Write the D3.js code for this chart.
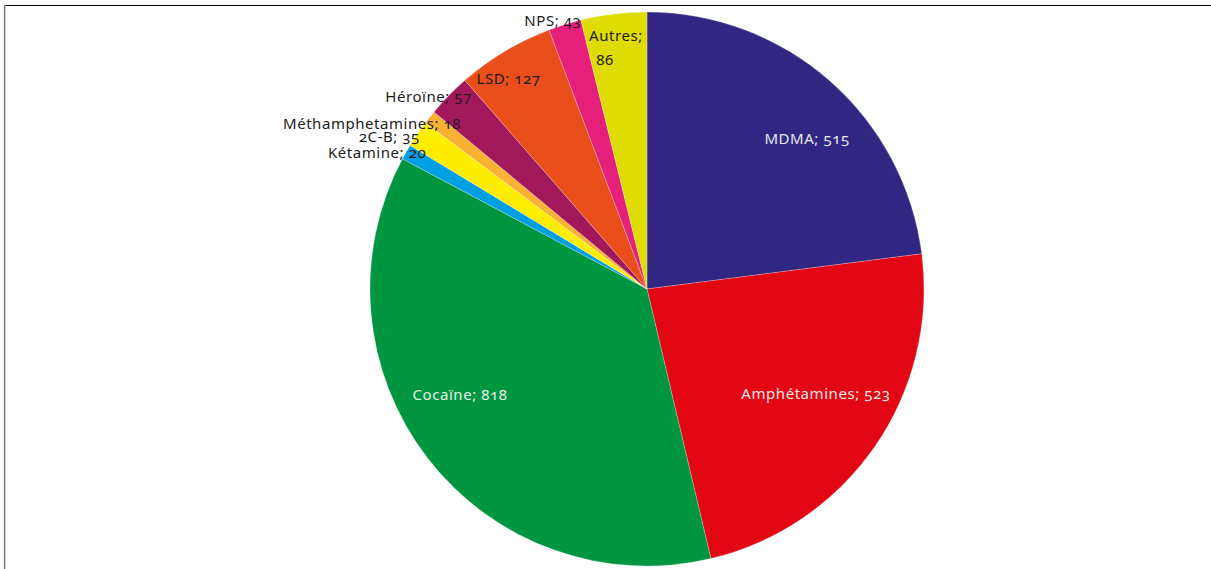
<!DOCTYPE html>
<html><head><meta charset="utf-8">
<script src="https://cdn.jsdelivr.net/npm/d3@7/dist/d3.min.js"></script>
<style>
html,body{margin:0;padding:0;background:#fff;}
svg{display:block;}
text{font-family:"Noto Sans","Open Sans",sans-serif;font-variant-numeric:oldstyle-nums;font-feature-settings:"onum" 1;letter-spacing:0.55px;}
</style></head>
<body>
<svg id="chart" width="1211" height="569"></svg>
<script>
const categories = ["MDMA","Amphétamines","Cocaïne","Kétamine","2C-B","Méthamphetamines","Héroïne","LSD","NPS","Autres"];
const values = [515,523,818,20,35,18,57,127,43,86];
const colors = ["#312783","#e30613","#009640","#009fe3","#ffed00","#f9b233","#a2195b","#e94e1b","#e6207a","#dedc00"];
const labelColors = ["#e6e6f0","#f6e6e6","#e6f2e6","#1d1d1b","#1d1d1b","#1d1d1b","#1d1d1b","#1d1d1b","#1d1d1b","#1d1d1b"];
// label placement: [angle offset from slice mid (deg), radius fraction]
const labelPlace = [[5.5,0.792],[-2.8,0.718],[8.1,0.776],[-2.9,1.091],[-3.5,1.080],[-7.3,1.158],[-3.0,1.050],[-2.5,0.908],[-2.1,1.026],[-1.6,0.880]];

const W=1211,H=569, cx=647, cy=289, R=277;
const svg=d3.select("#chart");
// frame
svg.append("line").attr("x1",5).attr("x2",W).attr("y1",5.5).attr("y2",5.5).attr("stroke","#000").attr("stroke-width",1.2);
svg.append("line").attr("x1",4.6).attr("x2",4.6).attr("y1",5).attr("y2",H).attr("stroke","#7a7a7a").attr("stroke-width",1.5);

const data = categories.map((c,i)=>({name:c,value:values[i],i}));
const pie=d3.pie().value(d=>d.value).sort(null);
const arcs=pie(data);
const arc=d3.arc().innerRadius(0).outerRadius(R);
const g=svg.append("g").attr("transform",`translate(${cx},${cy})`);
g.selectAll("path").data(arcs).join("path")
  .attr("d",arc).attr("fill",d=>colors[d.data.i])
  .attr("stroke","#ffffff").attr("stroke-width",0.4).attr("stroke-opacity",0.6);

arcs.forEach(d=>{
  const i=d.data.i;
  const mid=(d.startAngle+d.endAngle)/2 + labelPlace[i][0]*Math.PI/180;
  const rr=labelPlace[i][1]*R;
  const x=rr*Math.sin(mid), y=-rr*Math.cos(mid);
  const t=g.append("text").attr("x",x).attr("y",y).attr("text-anchor","middle")
    .attr("font-size",15).attr("fill",labelColors[i]);
  if(d.data.name==="Autres"){
    t.append("tspan").attr("x",x+5).attr("dy","-0.45em").text(d.data.name+";");
    t.append("tspan").attr("x",x-6).attr("dy","1.6em").text(d.data.value);
  } else {
    t.attr("dy","0.35em").text(d.data.name+"; "+d.data.value);
  }
});
</script>
</body></html>
